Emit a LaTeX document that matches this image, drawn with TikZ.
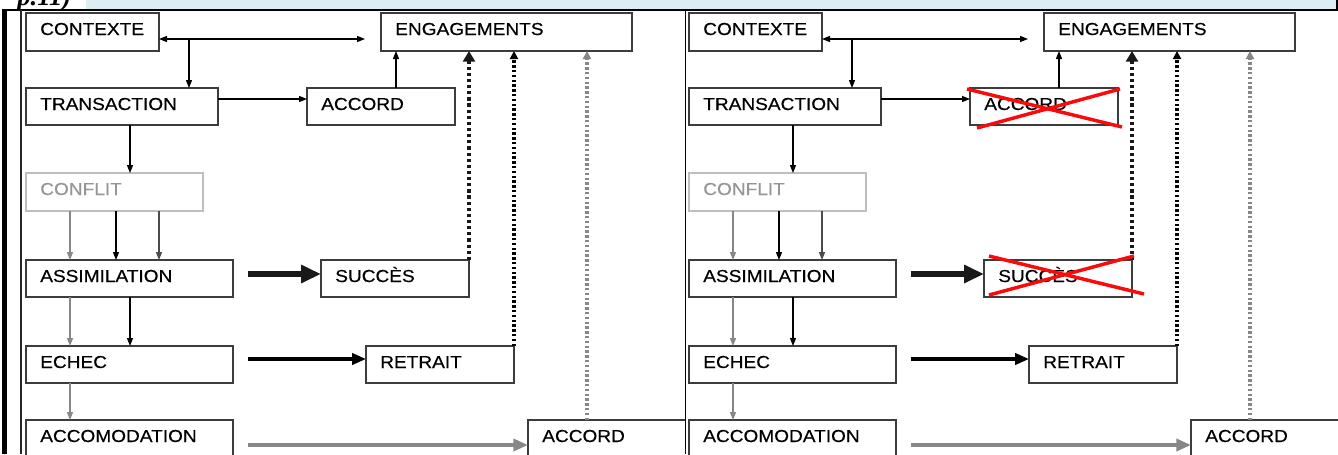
\documentclass[tikz,border=0pt]{standalone}
\usepackage{fontspec}
\setmainfont{Liberation Sans}
\newfontfamily\boxfont[FakeStretch=1.1,FakeBold=0.4]{Liberation Sans}
\newfontfamily\headfont{Liberation Serif}
\usetikzlibrary{arrows.meta}
\definecolor{bandblue}{RGB}{219,238,244}
\definecolor{boxline}{RGB}{60,60,60}
\definecolor{lightline}{RGB}{190,190,190}
\definecolor{lighttext}{RGB}{150,150,150}
\definecolor{midgray}{RGB}{135,135,135}
\definecolor{darkgraytwo}{RGB}{75,75,75}
\definecolor{crossred}{RGB}{250,10,10}
\tikzset{
  boxst/.style={line width=1.2pt, inner sep=0pt, outer sep=0pt, rectangle},
  lbl/.style={anchor=base west, inner sep=0pt, font=\boxfont\fontsize{13pt}{15pt}\selectfont},
  thinarr/.style={line width=0.9pt, -{Triangle[length=6pt,width=4.5pt]}},
  thickarr/.style={line width=3.8pt, draw=black!90, -{Triangle[length=15pt,width=13pt]}},
  medarr/.style={line width=2.4pt, draw=black, -{Triangle[length=10.5pt,width=8.5pt]}},
  grayarr/.style={line width=2.6pt, draw=midgray, -{Triangle[length=11pt,width=9pt]}},
  dotbig/.style={line width=3pt, dash pattern=on 2.4pt off 2.2pt, draw=black!90, -{Triangle[length=8pt,width=9pt]}},
  dotmid/.style={line width=2.4pt, dash pattern=on 1.8pt off 1.8pt, draw=black, -{Triangle[length=6pt,width=6pt]}},
  dotgray/.style={line width=2.4pt, dash pattern=on 1.8pt off 1.8pt, draw=midgray, -{Triangle[length=6pt,width=6pt]}},
  redx/.style={line width=2.6pt, draw=crossred}
}
\newcommand\mybox[8]{%
  \node[boxst,draw=#1,anchor=north west,minimum width={#6*0.75pt},minimum height={#7*0.75pt}] (#3) at (#4,#5) {};
  \node[lbl,text=#2] (#3-t) at ([xshift=10.5pt,yshift=-16.5pt]#3.north west) {#8};
}
\newcommand\drawpanel[1]{%
  \mybox{boxline}{black}{#1ctx}{26}{13}{133}{38}{CONTEXTE}
  \mybox{boxline}{black}{#1eng}{381}{13}{251}{38}{ENGAGEMENTS}
  \mybox{boxline}{black}{#1tra}{26}{88}{192}{37}{TRANSACTION}
  \mybox{boxline}{black}{#1acc}{307}{88}{148}{37}{ACCORD}
  \mybox{lightline}{lighttext}{#1con}{26}{173}{177}{38}{CONFLIT}
  \mybox{boxline}{black}{#1ass}{26}{260}{207}{37}{ASSIMILATION}
  \mybox{boxline}{black}{#1suc}{321}{260}{148}{37}{SUCCÈS}
  \mybox{boxline}{black}{#1ech}{26}{346}{207}{37}{ECHEC}
  \mybox{boxline}{black}{#1ret}{366}{346}{148}{37}{RETRAIT}
  \mybox{boxline}{black}{#1acm}{26}{420}{207}{60}{ACCOMODATION}
  \mybox{boxline}{black}{#1ac2}{528}{420}{200}{60}{ACCORD}
  \coordinate (#1j) at (189,39);
  \coordinate (#1e) at (365,39);
  \coordinate (#1s1) at (248,274);
  \coordinate (#1s2) at (248,359);
  \coordinate (#1s3) at (248,445);
  \draw[line width=0.9pt,{Triangle[length=6pt,width=4.5pt]}-{Triangle[length=6pt,width=4.5pt]}] (#1ctx.east |- #1j) -- (#1e);
  \draw[thinarr] (#1j) -- (#1j |- #1tra.north);
  \draw[thinarr] (#1tra.east |- 0,99) -- (#1acc.west |- 0,99);
  \draw[thinarr] (396,0 |- #1acc.north) -- (396,0 |- #1eng.south);
  \draw[thinarr] (130,0 |- #1tra.south) -- (130,0 |- #1con.north);
  \draw[thinarr,midgray] (70,0 |- #1con.south) -- (70,0 |- #1ass.north);
  \draw[thinarr] (116,0 |- #1con.south) -- (116,0 |- #1ass.north);
  \draw[thinarr,darkgraytwo] (159,0 |- #1con.south) -- (159,0 |- #1ass.north);
  \draw[thinarr,midgray] (70,0 |- #1ass.south) -- (70,0 |- #1ech.north);
  \draw[thinarr] (130,0 |- #1ass.south) -- (130,0 |- #1ech.north);
  \draw[thinarr,midgray] (70,0 |- #1ech.south) -- (70,0 |- #1acm.north);
  \draw[thickarr] (#1s1) -- (#1suc.west |- #1s1);
  \draw[medarr] (#1s2) -- (#1ret.west |- #1s2);
  \draw[grayarr] (#1s3) -- (#1ac2.west |- #1s3);
  \draw[dotbig] (#1suc.north east) -- (#1suc.north east |- #1eng.south);
  \draw[dotmid] (#1ret.north east) -- (#1ret.north east |- #1eng.south);
  \draw[dotgray] (587,0 |- #1ac2.north) -- (587,0 |- #1eng.south);
}
\begin{document}
\begin{tikzpicture}[x=0.75pt,y=-0.75pt]
\useasboundingbox (0,0) rectangle (1338,454);
% header band
\fill[bandblue] (86,0) rectangle (1337,10);
\begin{scope}
  \clip (0,0) rectangle (90,10);
  \node[anchor=base west, inner sep=0pt, font=\headfont\bfseries\itshape\fontsize{20pt}{22pt}\selectfont] (hdr) at (17,5) {p.11)};
\end{scope}
\draw[line width=1.3pt] (2,10) -- (1338,10);
\draw[line width=1.1pt] (1337,0) -- (1337,10);
% table borders
\fill[black] (2,10) rectangle (7,454);
\draw[line width=0.8pt, black!85] (21,10) -- (21,454);
% left panel
\begin{scope}
  \clip (21.5,10.5) rectangle (685,454);
  \drawpanel{L}
\end{scope}
% right panel
\begin{scope}
  \clip (686,10.5) rectangle (1338,454);
  \begin{scope}[shift={(663,0)}]
    \drawpanel{R}
    \draw[redx] (304,89) -- (459,127);
    \draw[redx] (314,128) -- (457,89);
    \draw[redx] (326,256) -- (481,294);
    \draw[redx] (326,295) -- (471,256);
  \end{scope}
\end{scope}
\draw[line width=1pt] (685.5,10) -- (685.5,454);
\end{tikzpicture}
\end{document}
